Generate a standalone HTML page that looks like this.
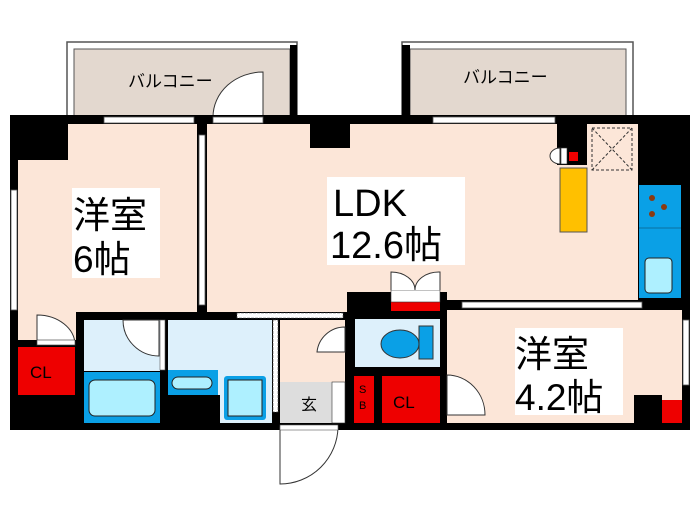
<!DOCTYPE html>
<html><head><meta charset="utf-8"><style>
html,body{margin:0;padding:0;background:#fff;width:700px;height:525px;overflow:hidden}
svg{display:block}
text{font-family:"Liberation Sans","Noto Sans CJK JP",sans-serif;fill:#000}
</style></head><body>
<svg width="700" height="525" viewBox="0 0 700 525" xmlns="http://www.w3.org/2000/svg">
<!-- balconies -->
<rect x="67" y="42" width="230" height="76" fill="#fff" stroke="#555" stroke-width="1.5"/>
<rect x="74" y="49" width="216" height="68" fill="#e3d8cf" stroke="#555" stroke-width="1"/>
<rect x="290" y="45" width="7" height="73" fill="#000"/>
<text x="128" y="87" font-size="17">バルコニー</text>
<path d="M263,72 L263,117 L213,117 A50,45 0 0 1 263,72 Z" fill="#fff" stroke="#333" stroke-width="1"/>
<rect x="402" y="42" width="231" height="76" fill="#fff" stroke="#555" stroke-width="1.5"/>
<rect x="410" y="49" width="216" height="68" fill="#e3d8cf" stroke="#555" stroke-width="1"/>
<rect x="402" y="45" width="8" height="73" fill="#000"/>
<text x="463" y="83" font-size="17">バルコニー</text>

<!-- main black body -->
<rect x="10" y="115" width="680" height="315" fill="#000"/>
<!-- 洋室6 -->
<path d="M68,124 L197,124 L197,312 L76,312 L76,340 L18,340 L18,160 L68,160 Z" fill="#fce6d8"/>
<!-- LDK -->
<path d="M207,124 L310,124 L310,148 L350,148 L350,124 L557,124 L557,165 L587,165 L587,124 L638,124 L638,300 L447,300 L447,292 L207,292 Z" fill="#fce6d8"/>
<rect x="207" y="292" width="140" height="20" fill="#fce6d8"/>
<rect x="76" y="312" width="270" height="8" fill="#000"/>
<!-- kitchen area -->
<rect x="588" y="124" width="50" height="176" fill="#fce6d8"/>
<rect x="592" y="128" width="40" height="42" fill="none" stroke="#333" stroke-dasharray="3,2"/>
<path d="M592,128 L632,170 M632,128 L592,170" stroke="#333" stroke-dasharray="3,2"/>
<rect x="639" y="185" width="42" height="113" fill="#0aa0e6"/>
<line x1="639" y1="228" x2="681" y2="228" stroke="#0a70a0"/>
<circle cx="652" cy="198" r="3" fill="#8a3a10"/><circle cx="664" cy="207" r="3" fill="#8a3a10"/><circle cx="652" cy="214" r="3" fill="#8a3a10"/>
<rect x="645" y="258" width="27" height="35" rx="4" fill="#aef0ff" stroke="#222"/>
<rect x="560" y="168" width="27" height="64" fill="#ffc000" stroke="#555"/>
<rect x="569" y="152" width="9" height="9" fill="#e00"/>
<path d="M560,148 L560,164 A10,8 0 0 1 560,148Z" fill="#fff" stroke="#333"/>
<rect x="561" y="148" width="6" height="16" fill="#fff" stroke="#333" stroke-width=".6"/>
<!-- windows -->
<rect x="104" y="117" width="90" height="6" fill="#fff" stroke="#555" stroke-width=".8"/>
<rect x="213" y="117" width="50" height="6" fill="#fff" stroke="#555" stroke-width=".8"/>
<rect x="433" y="117" width="122" height="6" fill="#fff" stroke="#555" stroke-width=".8"/>
<rect x="11" y="190" width="6" height="120" fill="#fff" stroke="#555" stroke-width=".8"/>
<rect x="199" y="135" width="6" height="170" fill="#fff" stroke="#555" stroke-width=".8"/>
<rect x="683" y="320" width="6" height="65" fill="#fff" stroke="#555" stroke-width=".8"/>
<rect x="237" y="313" width="106" height="5" fill="#fff" stroke="#555" stroke-width=".6" stroke-dasharray="3,1"/>
<!-- labels -->
<rect x="72" y="188" width="88" height="90" fill="#fff"/>
<text x="73" y="228" font-size="37">洋室</text>
<text x="73" y="272" font-size="37">6帖</text>
<rect x="327" y="177" width="138" height="88" fill="#fff"/>
<text x="333" y="216" font-size="38">LDK</text>
<text x="330" y="258" font-size="38">12.6帖</text>
<!-- CL left -->
<rect x="18" y="347" width="57" height="48" fill="#e00"/>
<text x="30" y="378" font-size="17">CL</text>
<path d="M37,315 L37,345 L75,345 A38,30 0 0 0 37,315Z" fill="#fff" stroke="#333"/>
<rect x="37" y="340" width="38" height="5" fill="#fff" stroke="#333" stroke-width=".6"/>
<!-- bath -->
<rect x="84" y="320" width="76" height="51" fill="#ddf0fb"/>
<rect x="84" y="372" width="76" height="51" fill="#0aa0e6"/>
<rect x="89" y="380" width="66" height="36" rx="6" fill="#aef0ff" stroke="#222"/>
<path d="M123,320 A36,36 0 0 0 159,356 L159,320Z" fill="#fff" stroke="#333"/>
<rect x="160" y="320" width="5" height="50" fill="#fff" stroke="#555" stroke-width=".6"/>
<rect x="168" y="320" width="104" height="103" fill="#ddf0fb"/>
<rect x="168" y="370" width="50" height="25" fill="#0aa0e6"/>
<rect x="172" y="377" width="40" height="12" rx="6" fill="#aef0ff" stroke="#222"/>
<rect x="168" y="395" width="52" height="28" fill="#000"/>
<rect x="224" y="376" width="42" height="44" rx="3" fill="#0aa0e6"/>
<rect x="228" y="380" width="34" height="36" fill="#aef0ff" stroke="#222"/>
<rect x="273" y="320" width="5" height="92" fill="#fff" stroke="#555" stroke-width=".6" stroke-dasharray="3,1"/>
<!-- hall / entrance -->
<rect x="280" y="320" width="65" height="62" fill="#fce6d8"/>
<rect x="280" y="382" width="52" height="41" fill="#ddd"/>
<text x="301" y="410" font-size="16">玄</text>
<path d="M345,327 A28,28 0 0 0 317,352 L345,352Z" fill="#fff" stroke="#333"/>
<rect x="332" y="382" width="13" height="41" fill="#fff" stroke="#333" stroke-width=".6"/>
<path d="M280,427 L280,484 A58,58 0 0 0 338,427Z" fill="#fff" stroke="#333"/>
<rect x="280" y="425" width="58" height="5" fill="#fff" stroke="#555" stroke-width=".6"/>
<!-- toilet -->
<rect x="355" y="319" width="85" height="48" fill="#ddf0fb"/>
<ellipse cx="400" cy="344" rx="19" ry="14" fill="#0aa0e6" stroke="#333"/>
<rect x="419" y="326" width="14" height="33" fill="#0aa0e6" stroke="#333"/>
<rect x="391" y="302" width="49" height="9" fill="#e00"/>
<rect x="391" y="290" width="49" height="12" fill="#fff" stroke="#333" stroke-width=".6"/>
<path d="M391,290 L391,272 A24,18 0 0 1 415,290 M440,290 L440,272 A24,18 0 0 0 415,290" fill="#fff" stroke="#333"/>
<rect x="354" y="376" width="20" height="47" fill="#e00"/>
<text x="359" y="393" font-size="11">S</text><text x="359" y="409" font-size="11">B</text>
<rect x="382" y="376" width="58" height="47" fill="#e00"/>
<text x="393" y="408" font-size="17">CL</text>
<!-- 洋室4.2 -->
<rect x="447" y="310" width="235" height="113" fill="#fce6d8"/>
<rect x="462" y="302" width="180" height="6" fill="#fff" stroke="#555" stroke-width=".8"/>
<path d="M447,375 A38,40 0 0 1 485,415 L447,415Z" fill="#fff" stroke="#333"/>
<rect x="634" y="395" width="28" height="30" fill="#000"/>
<rect x="662" y="400" width="20" height="23" fill="#e00"/>
<rect x="515" y="328" width="108" height="87" fill="#fff"/>
<text x="515" y="367" font-size="37">洋室</text>
<text x="515" y="410" font-size="37">4.2帖</text>
</svg>
</body></html>
